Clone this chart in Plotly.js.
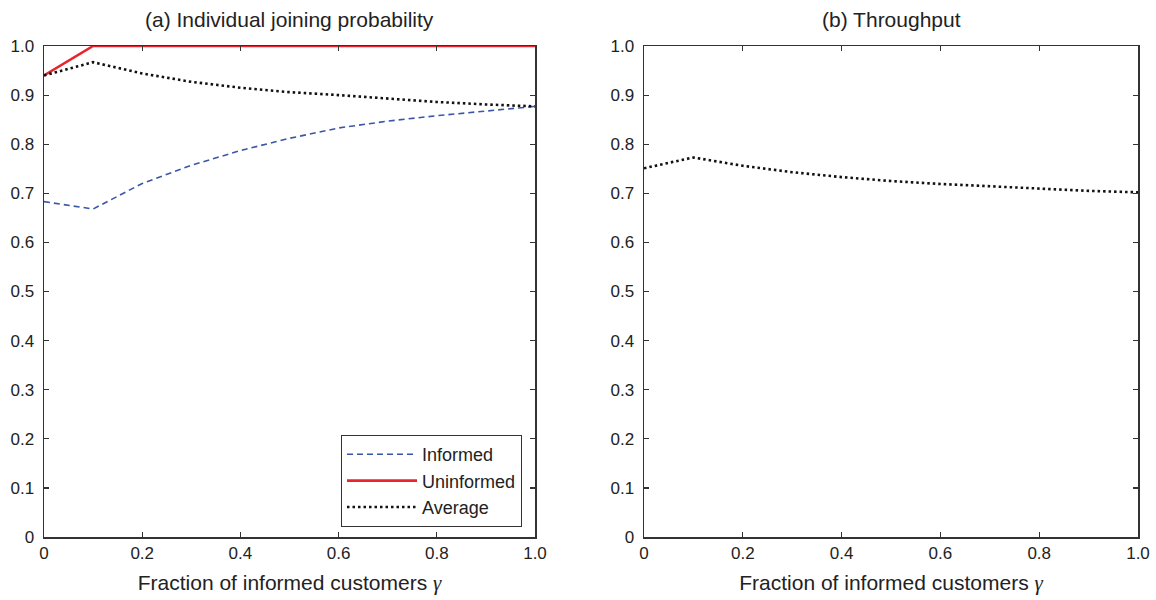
<!DOCTYPE html>
<html>
<head>
<meta charset="utf-8">
<script src="https://cdn.plot.ly/plotly-3.0.1.min.js"></script>
<style>html,body{margin:0;padding:0;background:#fff;}#chart{width:1156px;height:600px;}</style>
</head>
<body>
<div id="chart"></div>
<script>
const gamma = [0, 0.1, 0.2, 0.3, 0.4, 0.5, 0.6, 0.7, 0.8, 0.9, 1.0];
const informed = [0.683, 0.668, 0.720, 0.757, 0.787, 0.812, 0.833, 0.847, 0.858, 0.868, 0.877];
const uninformed = [0.940, 1.0, 1.0, 1.0, 1.0, 1.0, 1.0, 1.0, 1.0, 1.0, 1.0];
const average = [0.940, 0.967, 0.944, 0.927, 0.915, 0.906, 0.900, 0.893, 0.886, 0.881, 0.877];
const throughput = [0.751, 0.773, 0.756, 0.743, 0.733, 0.725, 0.719, 0.714, 0.709, 0.705, 0.702];
const yTickVals = [0, 0.1, 0.2, 0.3, 0.4, 0.5, 0.6, 0.7, 0.8, 0.9, 1.0];
const yTickText = ["0", "0.1", "0.2", "0.3", "0.4", "0.5", "0.6", "0.7", "0.8", "0.9", "1.0"];
const xTickVals = [0, 0.2, 0.4, 0.6, 0.8, 1.0];
const xTickText = ["0", "0.2", "0.4", "0.6", "0.8", "1.0"];
const titleA = "(a) Individual joining probability";
const titleB = "(b) Throughput";
const xTitle = "Fraction of informed customers <span style=\"font-family:'Liberation Serif',serif;font-style:italic\">γ</span>";

const FONT = "Liberation Sans, Arial, Helvetica, sans-serif";
const W = 1156, H = 600;
const xdA = [44 / W, 535 / W];
const xdB = [644 / W, 1138 / W];
const yd = [1 - 537 / H, 1 - 46 / H];

const traces = [
  {x: gamma, y: informed, name: "Informed", type: "scatter", mode: "lines",
   line: {color: "#3b56a8", width: 1.6, dash: "6px,4px"}, xaxis: "x", yaxis: "y", cliponaxis: false},
  {x: gamma, y: uninformed, name: "Uninformed", type: "scatter", mode: "lines",
   line: {color: "#e8252c", width: 2.6}, xaxis: "x", yaxis: "y", cliponaxis: false},
  {x: gamma, y: average, name: "Average", type: "scatter", mode: "lines",
   line: {color: "#111111", width: 2.6, dash: "2.5px,3px"}, xaxis: "x", yaxis: "y", cliponaxis: false},
  {x: gamma, y: throughput, name: "Throughput", type: "scatter", mode: "lines", showlegend: false,
   line: {color: "#111111", width: 2.6, dash: "2.5px,3px"}, xaxis: "x2", yaxis: "y2", cliponaxis: false}
];

function xax(domain, anchor) {
  return {domain: domain, anchor: anchor, range: [0, 1], tickvals: xTickVals, ticktext: xTickText,
    ticks: "inside", ticklen: 5, tickcolor: "#333", tickwidth: 1.2, showline: true, linecolor: "#333", linewidth: 1.5,
    mirror: "ticks", showgrid: false, zeroline: false, fixedrange: true,
    tickfont: {family: FONT, size: 17, color: "#222"},
    title: {text: xTitle, font: {family: FONT, size: 21, color: "#222"}, standoff: 13}};
}
function yax(domain, anchor) {
  return {domain: domain, anchor: anchor, range: [0, 1], tickvals: yTickVals, ticktext: yTickText,
    ticks: "inside", ticklen: 5, tickcolor: "#333", tickwidth: 1.2, showline: true, linecolor: "#333", linewidth: 1.5,
    mirror: "ticks", showgrid: false, zeroline: false, fixedrange: true, ticklabelstandoff: 5,
    tickfont: {family: FONT, size: 17, color: "#222"}};
}

const layout = {
  width: W, height: H, margin: {l: 0, r: 0, t: 0, b: 0},
  paper_bgcolor: "#fff", plot_bgcolor: "#fff",
  font: {family: FONT, size: 17, color: "#222"},
  xaxis: xax(xdA, "y"), yaxis: yax(yd, "x"),
  xaxis2: xax(xdB, "y2"), yaxis2: yax(yd, "x2"),
  showlegend: true,
  legend: {x: 522 / W, y: 1 - 527 / H, xanchor: "right", yanchor: "bottom",
    bordercolor: "#333", borderwidth: 1, bgcolor: "#fff",
    font: {family: FONT, size: 18, color: "#222"}, itemwidth: 70, tracegroupgap: 0},
  annotations: [
    {text: titleA, x: (xdA[0] + xdA[1]) / 2, y: 1 - 20 / H, xref: "paper", yref: "paper",
     showarrow: false, xanchor: "center", yanchor: "middle", font: {family: FONT, size: 21, color: "#222"}},
    {text: titleB, x: (xdB[0] + xdB[1]) / 2, y: 1 - 20 / H, xref: "paper", yref: "paper",
     showarrow: false, xanchor: "center", yanchor: "middle", font: {family: FONT, size: 21, color: "#222"}}
  ]
};

Plotly.newPlot("chart", traces, layout, {displayModeBar: false, staticPlot: true});
</script>
</body>
</html>
